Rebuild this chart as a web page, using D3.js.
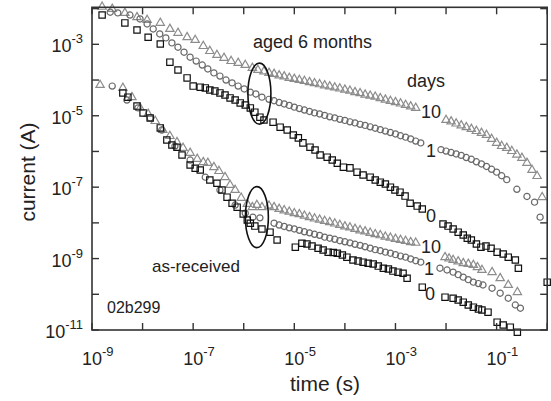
<!DOCTYPE html>
<html>
<head>
<meta charset="utf-8">
<script src="https://cdn.jsdelivr.net/npm/d3@7"></script>
<style>
  body { margin: 0; background: #fff; }
  svg { font-family: "Liberation Sans", Arial, sans-serif; }
</style>
</head>
<body>
<svg id="chart" width="551" height="401"></svg>
<script>
// points are [log10(time / s), log10(current / A)]

// aged 6 months
const agedTen = [
  [-8.80,-1.95],[-8.60,-2.01],[-8.35,-2.12],[-8.11,-2.24],[-7.91,-2.32],[-7.65,-2.40],[-7.46,-2.57],
  [-7.30,-2.68],[-7.12,-2.80],[-6.96,-2.88],[-6.80,-3.05],[-6.67,-3.19],[-6.53,-3.30],[-6.39,-3.38],
  [-6.25,-3.47],[-6.11,-3.52],[-5.97,-3.58],[-5.83,-3.66],[-5.72,-3.72],
  [-5.6,-3.76],[-5.5,-3.80],[-5.4,-3.83],[-5.3,-3.87],[-5.2,-3.90],[-5.1,-3.94],[-5.0,-3.97],
  [-4.9,-4.00],[-4.8,-4.03],[-4.7,-4.06],[-4.6,-4.09],[-4.5,-4.12],[-4.4,-4.15],[-4.3,-4.18],
  [-4.2,-4.21],[-4.1,-4.24],[-4.0,-4.27],[-3.9,-4.30],[-3.8,-4.34],[-3.7,-4.37],[-3.6,-4.41],
  [-3.5,-4.44],[-3.4,-4.47],[-3.3,-4.51],[-3.2,-4.55],[-3.1,-4.59],[-3.0,-4.62],[-2.9,-4.66],
  [-2.8,-4.70],[-2.7,-4.74],[-2.6,-4.78],
  [-2.0,-5.12],[-1.9,-5.16],[-1.8,-5.22],[-1.7,-5.27],[-1.6,-5.32],[-1.5,-5.37],[-1.4,-5.43],
  [-1.3,-5.48],[-1.2,-5.54],[-1.1,-5.65],[-1.0,-5.76],[-0.9,-5.85],[-0.8,-5.90],[-0.7,-5.99],
  [-0.6,-6.09],[-0.5,-6.18],[-0.4,-6.32],[-0.3,-6.52],[-0.2,-6.69],[-0.1,-7.28]
];

const agedOne = [
  [-8.64,-2.10],[-8.49,-2.12],[-8.25,-2.18],[-8.05,-2.29],[-7.91,-2.43],[-7.79,-2.57],[-7.66,-2.71],
  [-7.54,-2.82],[-7.42,-2.96],[-7.30,-3.08],[-7.18,-3.22],[-7.06,-3.36],[-6.94,-3.47],[-6.82,-3.58],
  [-6.71,-3.69],[-6.59,-3.80],[-6.47,-3.89],[-6.35,-4.00],[-6.23,-4.08],[-6.11,-4.17],[-5.99,-4.25],
  [-5.87,-4.34],[-5.76,-4.39],[-5.64,-4.48],
  [-5.5,-4.54],[-5.4,-4.58],[-5.3,-4.63],[-5.2,-4.67],[-5.1,-4.71],[-5.0,-4.76],[-4.9,-4.80],
  [-4.8,-4.84],[-4.7,-4.88],[-4.6,-4.92],[-4.5,-4.95],[-4.4,-4.99],[-4.3,-5.03],[-4.2,-5.06],
  [-4.1,-5.10],[-4.0,-5.13],[-3.9,-5.17],[-3.8,-5.20],[-3.7,-5.24],[-3.6,-5.27],[-3.5,-5.31],
  [-3.4,-5.35],[-3.3,-5.39],[-3.2,-5.43],[-3.1,-5.47],[-3.0,-5.51],[-2.9,-5.56],[-2.8,-5.60],
  [-2.7,-5.65],[-2.6,-5.71],[-2.5,-5.76],
  [-2.1,-5.95],[-2.0,-5.99],[-1.9,-6.03],[-1.8,-6.07],[-1.7,-6.11],[-1.6,-6.17],[-1.5,-6.22],
  [-1.4,-6.29],[-1.3,-6.35],[-1.2,-6.42],[-1.1,-6.50],[-1.0,-6.58],[-0.9,-6.68],[-0.8,-6.79],
  [-0.6,-7.06],[-0.4,-7.26],[-0.25,-7.42],[-0.14,-7.84]
];

const agedZero = [
  [-8.80,-2.18],[-8.35,-2.40],[-8.11,-2.60],[-7.89,-2.80],[-7.65,-2.99],[-7.46,-3.50],[-7.30,-3.72],
  [-7.12,-3.94],[-7.00,-4.17],[-6.86,-4.20],[-6.76,-4.22],[-6.67,-4.28],[-6.57,-4.31],[-6.47,-4.36],
  [-6.37,-4.42],[-6.27,-4.50],[-6.17,-4.56],[-6.07,-4.64],[-5.97,-4.70],[-5.87,-4.78],[-5.78,-4.90],
  [-5.68,-5.04],[-5.60,-5.12],[-5.42,-5.18],[-5.28,-5.32],[-5.14,-5.40],[-5.02,-5.54],[-4.92,-5.62],
  [-4.83,-5.76],[-4.69,-5.88],[-4.59,-5.96],[-4.49,-6.10],[-4.35,-6.16],[-4.25,-6.24],[-4.15,-6.33],
  [-4.03,-6.44],[-3.90,-6.46],[-3.76,-6.58],[-3.64,-6.66],[-3.50,-6.72],[-3.40,-6.80],[-3.30,-6.86],
  [-3.20,-6.91],[-3.10,-7.00],[-3.01,-7.08],[-2.91,-7.14],[-2.81,-7.25],[-2.71,-7.45],[-2.57,-7.53],
  [-2.47,-7.61],
  [-2.06,-8.03],[-1.96,-8.09],[-1.86,-8.17],[-1.76,-8.26],[-1.66,-8.34],[-1.58,-8.43],[-1.50,-8.48],
  [-1.40,-8.59],[-1.31,-8.68],[-1.21,-8.65],[-1.11,-8.71],[-0.99,-8.82],[-0.87,-8.87],[-0.77,-8.96],
  [-0.63,-9.04],[-0.57,-9.27],[0.0,-9.66]
];

// as-received
const recTen = [
  [-8.84,-4.14],[-8.39,-4.22],[-8.21,-4.48],[-8.05,-4.78],[-7.89,-4.95],[-7.75,-5.15],[-7.60,-5.40],
  [-7.46,-5.57],[-7.32,-5.74],[-7.20,-5.90],[-7.06,-6.04],[-6.92,-6.21],[-6.80,-6.30],[-6.71,-6.32],
  [-6.59,-6.44],[-6.49,-6.55],[-6.37,-6.72],[-6.27,-6.94],[-6.17,-7.08],[-6.05,-7.30],[-5.93,-7.47],
  [-5.83,-7.56],[-5.74,-7.50],[-5.64,-7.56],
  [-5.5,-7.52],[-5.4,-7.56],[-5.3,-7.61],[-5.2,-7.65],[-5.1,-7.69],[-5.0,-7.73],[-4.9,-7.76],
  [-4.8,-7.80],[-4.7,-7.84],[-4.6,-7.88],[-4.5,-7.91],[-4.4,-7.95],[-4.3,-7.98],[-4.2,-8.02],
  [-4.1,-8.06],[-4.0,-8.10],[-3.9,-8.13],[-3.8,-8.17],[-3.7,-8.21],[-3.6,-8.24],[-3.5,-8.28],
  [-3.4,-8.32],[-3.3,-8.35],[-3.2,-8.39],[-3.1,-8.42],[-3.0,-8.45],[-2.9,-8.48],[-2.8,-8.51],
  [-2.7,-8.54],[-2.6,-8.56],
  [-2.02,-8.96],[-1.94,-9.00],[-1.86,-9.04],[-1.76,-9.08],[-1.66,-9.13],[-1.56,-9.15],[-1.46,-9.18],
  [-1.38,-9.24],[-1.29,-9.32],[-1.09,-9.38],[-0.93,-9.55],[-0.77,-9.74],[-0.59,-9.94]
];

const recOne = [
  [-8.60,-4.17],[-8.31,-4.56],[-8.09,-4.78],[-7.85,-5.06],[-7.62,-5.40],[-7.36,-5.85],[-7.06,-6.24],
  [-6.76,-6.72],[-6.47,-7.08],[-6.17,-7.50],[-5.97,-7.73],[-5.82,-7.84],[-5.68,-7.86],
  [-5.4,-8.01],[-5.3,-8.06],[-5.2,-8.10],[-5.1,-8.14],[-5.0,-8.17],[-4.9,-8.21],[-4.8,-8.25],
  [-4.7,-8.28],[-4.6,-8.32],[-4.5,-8.35],[-4.4,-8.40],[-4.3,-8.43],[-4.2,-8.46],[-4.1,-8.50],
  [-4.0,-8.53],[-3.9,-8.56],[-3.8,-8.60],[-3.7,-8.63],[-3.6,-8.67],[-3.5,-8.71],[-3.4,-8.75],
  [-3.3,-8.78],[-3.2,-8.82],[-3.1,-8.85],[-3.0,-8.89],[-2.9,-8.93],[-2.8,-8.96],[-2.7,-9.01],
  [-2.6,-9.06],[-2.5,-9.10],
  [-2.12,-9.27],[-1.98,-9.32],[-1.86,-9.38],[-1.76,-9.45],[-1.66,-9.52],[-1.56,-9.59],[-1.46,-9.66],
  [-1.36,-9.70],[-1.27,-9.74],[-1.09,-9.83],[-0.93,-9.97],[-0.77,-10.11],[-0.63,-10.30],[-0.53,-10.39]
];

const recZero = [
  [-8.39,-4.36],[-8.29,-4.48],[-8.11,-4.73],[-7.99,-4.92],[-7.85,-5.06],[-7.65,-5.34],[-7.52,-5.68],
  [-7.42,-5.82],[-7.32,-5.88],[-7.22,-6.10],[-7.06,-6.38],[-6.96,-6.47],[-6.86,-6.52],[-6.67,-6.80],
  [-6.53,-6.89],[-6.43,-7.08],[-6.33,-7.28],[-6.23,-7.45],[-6.13,-7.56],[-6.01,-7.75],[-5.93,-7.92],
  [-5.87,-8.01],[-5.78,-8.09],[-5.64,-8.17],[-5.48,-8.26],
  [-5.34,-8.48],[-4.98,-8.68],[-4.85,-8.57],[-4.75,-8.59],[-4.65,-8.65],[-4.53,-8.71],[-4.43,-8.76],
  [-4.33,-8.82],[-4.23,-8.83],[-4.15,-8.85],[-4.05,-8.90],[-3.96,-8.96],[-3.84,-9.04],[-3.74,-9.07],
  [-3.64,-9.10],[-3.54,-9.13],[-3.44,-9.15],[-3.34,-9.21],[-3.24,-9.27],[-3.14,-9.29],[-3.05,-9.35],
  [-2.95,-9.38],[-2.85,-9.41],[-2.77,-9.55],[-2.47,-9.80],
  [-2.02,-10.08],[-1.86,-10.11],[-1.76,-10.16],[-1.66,-10.22],[-1.56,-10.30],[-1.46,-10.36],
  [-1.36,-10.41],[-1.29,-10.44],[-1.17,-10.50],[-0.99,-10.78],[-0.87,-10.86],[-0.73,-10.92],[-0.59,-11.06]
];

const xTickExps = [-9, -8, -7, -6, -5, -4, -3, -2, -1, 0];
const xLabelExps = [-9, -7, -5, -3, -1];
const yTickExps = [-11, -10, -9, -8, -7, -6, -5, -4, -3, -2];
const yLabelExps = [-11, -9, -7, -5, -3];

// ellipses around the break in each group: [log10 t, log10 I]
const ellipseCentres = [[-5.69, -4.38], [-5.74, -7.84]];

const svg = d3.select("#chart");
const plotLeft = 92, plotRight = 547.2, plotTop = 7.3, plotBottom = 330;

const x = d3.scaleLog().domain([1e-9, 1]).range([plotLeft, plotRight]);
const y = d3.scaleLog().domain([1e-11, Math.pow(10, -1.963)]).range([plotBottom, plotTop]);

const toPts = arr => arr.map(d => ({ t: Math.pow(10, d[0]), i: Math.pow(10, d[1]) }));

// markers
const series = [
  { data: agedTen, shape: d3.symbolTriangle, size: 30, color: "#8c8c8c" },
  { data: recTen, shape: d3.symbolTriangle, size: 30, color: "#8c8c8c" },
  { data: agedOne, shape: d3.symbolCircle, size: 30, color: "#6a6a6a" },
  { data: recOne, shape: d3.symbolCircle, size: 30, color: "#6a6a6a" },
  { data: agedZero, shape: d3.symbolSquare, size: 40, color: "#111" },
  { data: recZero, shape: d3.symbolSquare, size: 40, color: "#111" }
];

series.forEach(s => {
  svg.append("g")
    .selectAll("path")
    .data(toPts(s.data))
    .join("path")
    .attr("transform", d => `translate(${x(d.t)},${y(d.i)})`)
    .attr("d", d3.symbol().type(s.shape).size(s.size))
    .attr("fill", "none")
    .attr("stroke", s.color)
    .attr("stroke-width", 1.2);
});

// ellipses
svg.append("g")
  .selectAll("ellipse")
  .data(ellipseCentres)
  .join("ellipse")
  .attr("cx", d => x(Math.pow(10, d[0])))
  .attr("cy", d => y(Math.pow(10, d[1])))
  .attr("rx", 11.5)
  .attr("ry", 30.5)
  .attr("fill", "none")
  .attr("stroke", "#111")
  .attr("stroke-width", 1.6);

// frame
const axisColor = "#333";
svg.append("rect")
  .attr("x", plotLeft).attr("y", plotTop)
  .attr("width", plotRight - plotLeft).attr("height", plotBottom - plotTop)
  .attr("fill", "none")
  .attr("stroke", axisColor)
  .attr("stroke-width", 1.6);

const tickLen = 7;
const ticks = svg.append("g").attr("stroke", axisColor).attr("stroke-width", 1.4);

xTickExps.forEach(e => {
  const px = x(Math.pow(10, e));
  ticks.append("line").attr("x1", px).attr("x2", px).attr("y1", plotBottom).attr("y2", plotBottom - tickLen);
  ticks.append("line").attr("x1", px).attr("x2", px).attr("y1", plotTop).attr("y2", plotTop + tickLen);
});
yTickExps.forEach(e => {
  const py = y(Math.pow(10, e));
  ticks.append("line").attr("x1", plotLeft).attr("x2", plotLeft + tickLen).attr("y1", py).attr("y2", py);
  ticks.append("line").attr("x1", plotRight).attr("x2", plotRight - tickLen).attr("y1", py).attr("y2", py);
});

// tick labels
const textColor = "#222";
xLabelExps.forEach(e => {
  const t = svg.append("text")
    .attr("x", x(Math.pow(10, e)) - 10)
    .attr("y", 365)
    .attr("font-size", 18)
    .attr("fill", textColor);
  t.append("tspan").text("10");
  t.append("tspan").attr("dy", -9).attr("font-size", 13).text(e);
});

yLabelExps.forEach(e => {
  const t = svg.append("text")
    .attr("x", 83)
    .attr("y", y(Math.pow(10, e)) + 8)
    .attr("text-anchor", "end")
    .attr("font-size", 18)
    .attr("fill", textColor);
  t.append("tspan").text("10");
  t.append("tspan").attr("dy", -9).attr("font-size", 13).text(e);
});

// axis titles
svg.append("text")
  .attr("transform", "translate(35,172) rotate(-90)")
  .attr("text-anchor", "middle")
  .attr("font-size", 21)
  .attr("fill", textColor)
  .text("current (A)");

svg.append("text")
  .attr("x", 325).attr("y", 391)
  .attr("text-anchor", "middle")
  .attr("font-size", 21)
  .attr("fill", textColor)
  .text("time (s)");

// annotations
const notes = [
  { text: "aged 6 months", x: 253, y: 48, size: 18 },
  { text: "days", x: 407, y: 87, size: 18 },
  { text: "10", x: 421, y: 118, size: 18 },
  { text: "1", x: 426, y: 157, size: 18 },
  { text: "0", x: 426, y: 222, size: 18 },
  { text: "10", x: 421, y: 253, size: 18 },
  { text: "1", x: 424, y: 275, size: 18 },
  { text: "0", x: 425, y: 300, size: 18 },
  { text: "as-received", x: 152, y: 272, size: 17 },
  { text: "02b299", x: 107, y: 313, size: 16 }
];
svg.append("g")
  .selectAll("text")
  .data(notes)
  .join("text")
  .attr("x", d => d.x)
  .attr("y", d => d.y)
  .attr("font-size", d => d.size)
  .attr("fill", textColor)
  .text(d => d.text);
</script>
</body>
</html>
